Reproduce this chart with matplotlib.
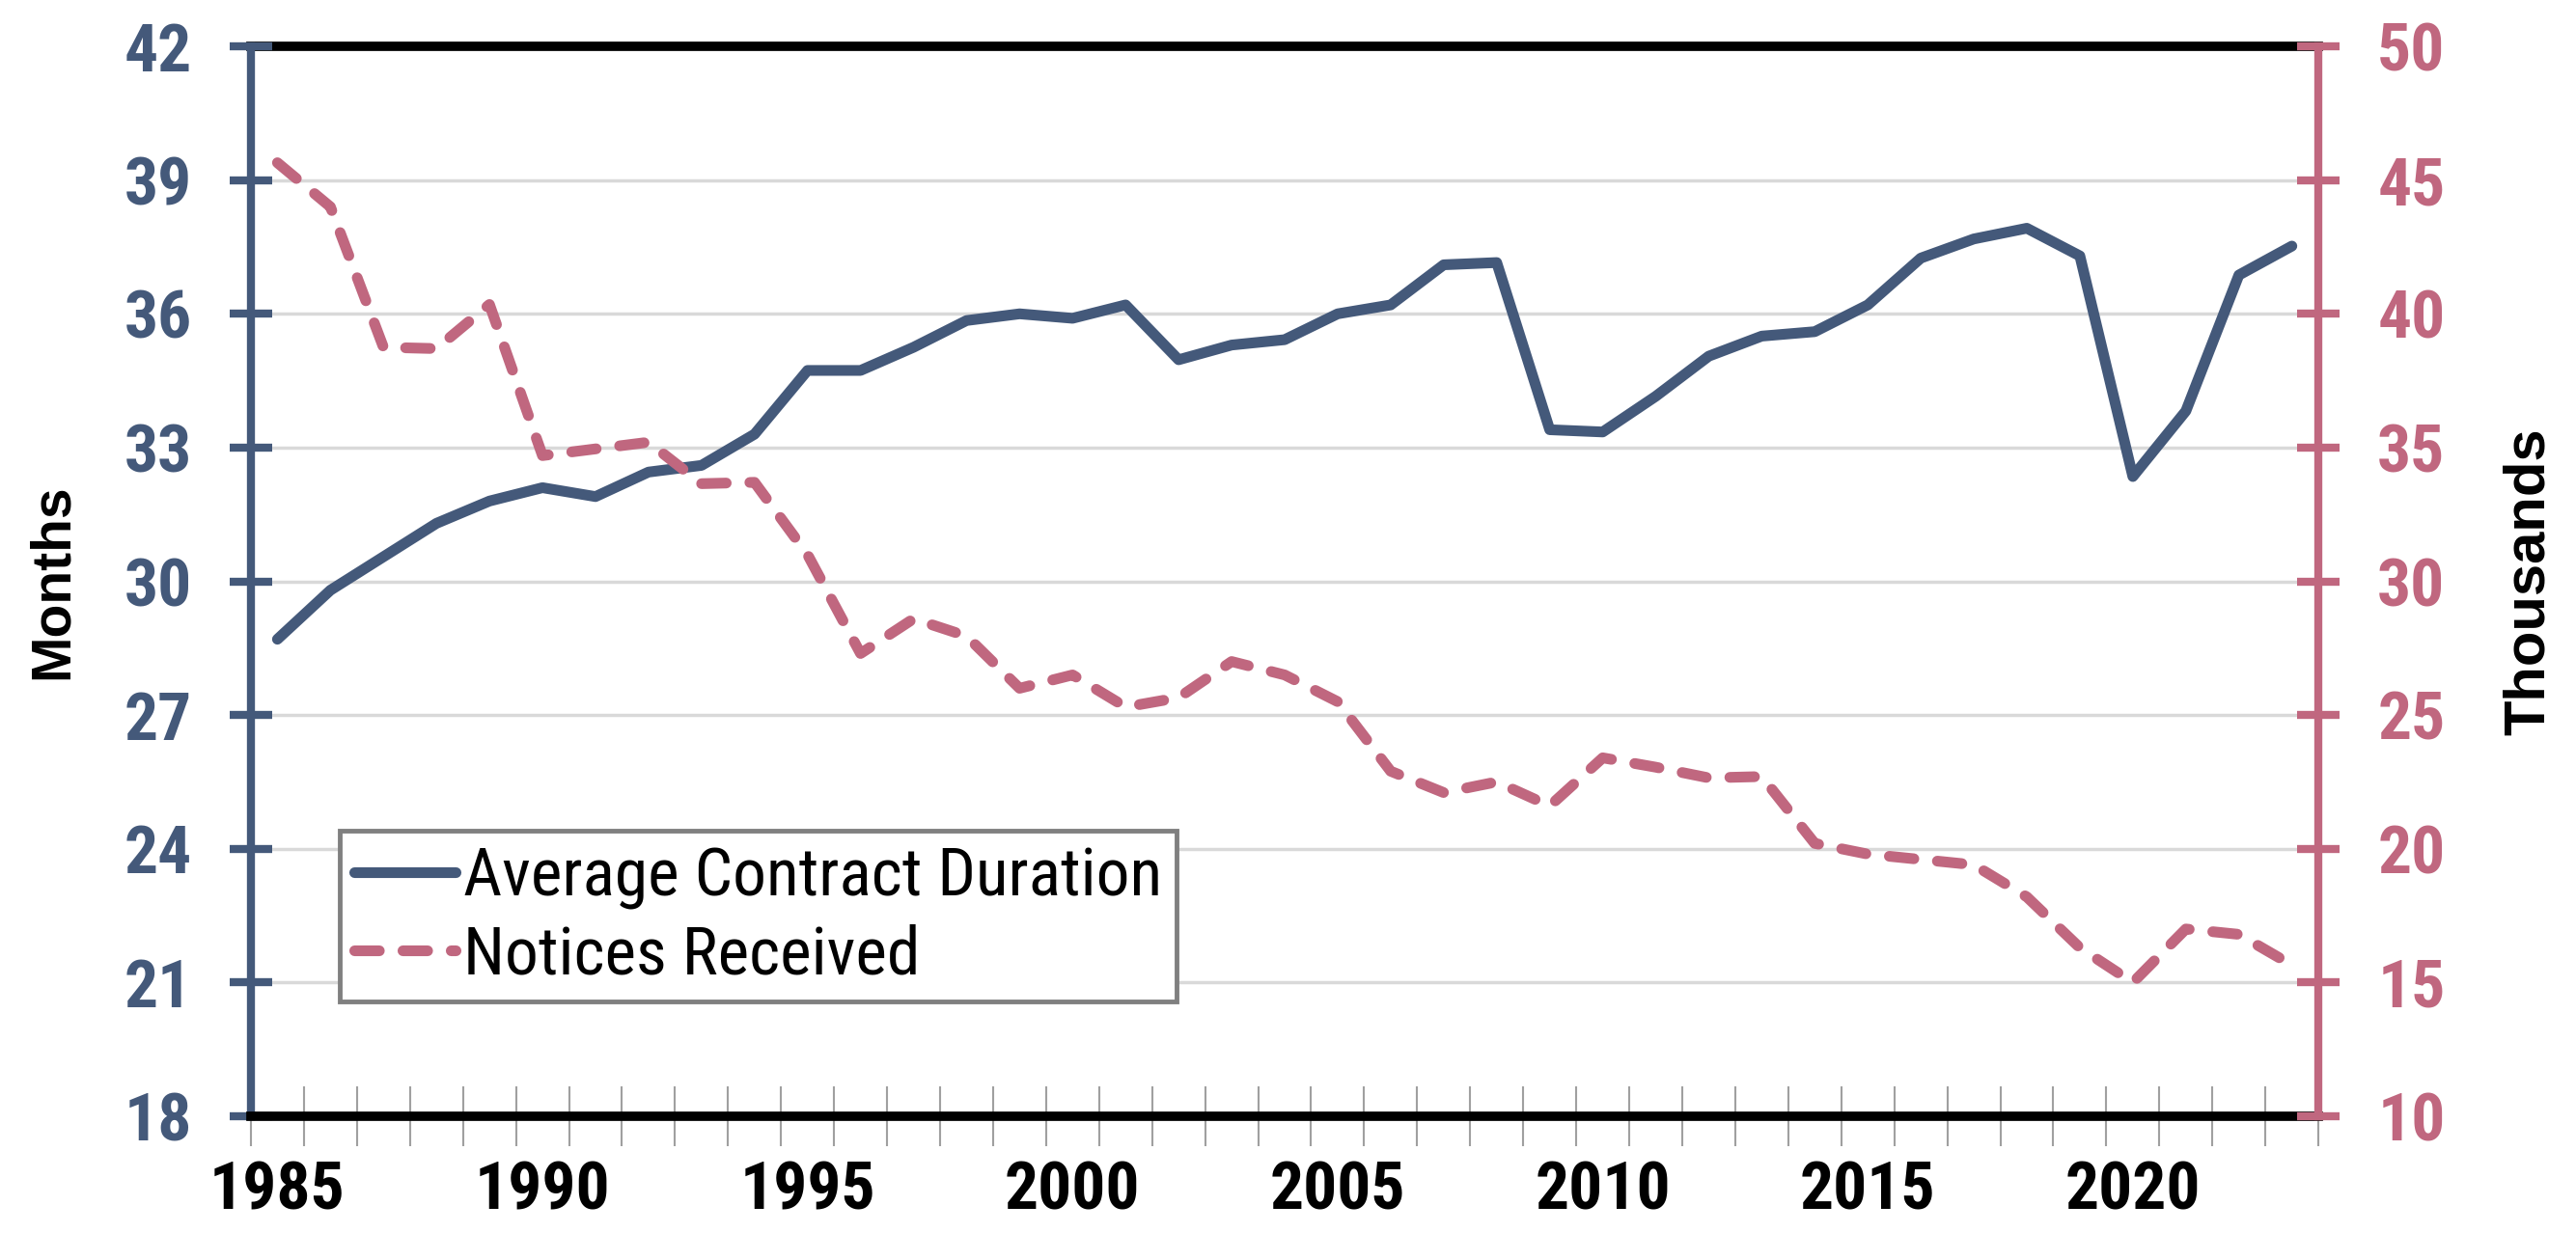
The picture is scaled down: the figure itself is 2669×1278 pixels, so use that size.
import matplotlib
matplotlib.use('Agg')
import matplotlib.pyplot as plt
import numpy as np
from matplotlib import font_manager

# data
years = list(range(1985, 2024))
duration = [28.7, 29.8, 30.55, 31.3, 31.8, 32.1, 31.9, 32.45, 32.6, 33.3,
            34.73, 34.73, 35.25, 35.85, 36.0, 35.9, 36.2, 34.97, 35.3, 35.42,
            36.0, 36.2, 37.1, 37.15, 33.4, 33.35, 34.15, 35.05, 35.5, 35.6,
            36.2, 37.25, 37.68, 37.92, 37.3, 32.35, 33.82, 36.87, 37.52]
notices = [45.65, 44.0, 38.75, 38.7, 40.35, 34.7, 34.95, 35.2, 33.65, 33.7,
           31.0, 27.3, 28.6, 27.95, 26.0, 26.5, 25.3, 25.65, 27.0, 26.5,
           25.5, 22.9, 22.1, 22.5, 21.6, 23.4, 23.05, 22.65, 22.7, 20.2,
           19.8, 19.6, 19.4, 18.2, 16.3, 15.0, 17.0, 16.8, 15.65]
left_ticks = list(range(18, 43, 3))
right_ticks = list(range(10, 51, 5))

blue = '#44597a'
pink = '#c0677f'


# look for a narrow / condensed sans (Arial Narrow look-alike)
def find_narrow(bold):
    prefs = ['Liberation Sans Narrow', 'Arial Narrow', 'Roboto Condensed',
             'Noto Sans Condensed', 'Noto Sans', 'Open Sans Condensed',
             'Open Sans', 'DejaVu Sans Condensed', 'DejaVu Sans']
    best = None
    for f in font_manager.fontManager.ttflist:
        if f.style != 'normal':
            continue
        w = f.weight
        if isinstance(w, str):
            w = {'bold': 700, 'normal': 400, 'regular': 400}.get(w.lower(), 400)
        if bold and w != 700:
            continue
        if not bold and w != 400:
            continue
        narrowish = ('Narrow' in f.name or 'Condensed' in f.name
                     or str(f.stretch) in ('condensed', 'semi-condensed'))
        if not narrowish or f.name not in prefs:
            continue
        if 'Semi' in f.fname or 'Extra' in f.fname or 'Ultra' in f.fname:
            continue
        r = prefs.index(f.name)
        if best is None or r < best[0]:
            best = (r, f.fname)
    return best[1] if best else None


nb = find_narrow(True)
nr = find_narrow(False)
if nb:
    tick_fp = font_manager.FontProperties(fname=nb, size=50)
else:
    tick_fp = font_manager.FontProperties(family='Liberation Sans', weight='bold', size=44)
if nr:
    leg_fp = font_manager.FontProperties(fname=nr, size=50)
else:
    leg_fp = font_manager.FontProperties(family='Liberation Sans', size=42)

x = np.arange(len(years))

fig = plt.figure(figsize=(26.69, 12.78), dpi=100)
ax = fig.add_axes([0.0974, 0.0947, 0.8026, 0.8677])
ax2 = ax.twinx()

l1, = ax.plot(x, duration, color=blue, lw=8, solid_capstyle='round',
              solid_joinstyle='round', label='Average Contract Duration', zorder=3)
l2, = ax2.plot(x, notices, color=pink, lw=8, dashes=(2.3, 2.2),
               dash_capstyle='round', label='Notices Received', zorder=3)

ax.set_xlim(-0.5, len(years) - 0.5)
ax.set_ylim(18, 42)
ax2.set_ylim(10, 50)
ax.set_yticks(left_ticks)
ax2.set_yticks(right_ticks)

ax.set_xticks(x)
ax.set_xticklabels([str(y) if y % 5 == 0 else '' for y in years])
ax.set_xticks(np.arange(-0.5, len(years), 1), minor=True)
ax.tick_params(axis='x', which='major', length=0, pad=33, labelcolor='black')
ax.tick_params(axis='x', which='minor', direction='inout', length=44,
               width=1.5, color='#a0a0a0')

ax.tick_params(axis='y', direction='inout', length=32, width=6,
               color=blue, labelcolor=blue, pad=28)
ax2.tick_params(axis='y', direction='inout', length=32, width=6,
                color=pink, labelcolor=pink, pad=28)

for lab in ax.get_xticklabels() + ax.get_yticklabels() + ax2.get_yticklabels():
    lab.set_fontproperties(tick_fp)

ax.yaxis.grid(True, color='#d9d9d9', lw=2.5)
ax.yaxis.get_gridlines()[-1].set_visible(False)

ax.spines['left'].set_color(blue)
ax.spines['left'].set_linewidth(6)
ax.spines['right'].set_visible(False)
for s in ['top', 'bottom']:
    ax.spines[s].set_color('black')
    ax.spines[s].set_linewidth(7)
ax.spines['top'].set_zorder(1)
ax2.spines['right'].set_color(pink)
ax2.spines['right'].set_linewidth(6)
for s in ['top', 'bottom', 'left']:
    ax2.spines[s].set_visible(False)

ax.set_ylabel('Months', fontsize=41, fontweight='bold', family='Liberation Sans', color='black')
ax.yaxis.set_label_coords(-0.083, 0.5)
ax2.set_ylabel('Thousands', fontsize=43, fontweight='bold', family='Liberation Sans', color='black')
ax2.yaxis.set_label_coords(1.089, 0.5)

leg = ax2.legend(handles=[l1, l2], loc='lower left', bbox_to_anchor=(0.043, 0.107),
                 borderaxespad=0, fancybox=False, framealpha=1, edgecolor='#808080',
                 prop=leg_fp, handlelength=1.5,
                 handletextpad=0.12, labelspacing=0.2, borderpad=0.22)
leg.get_frame().set_linewidth(3.5)

fig.savefig('out.png', dpi=100)
